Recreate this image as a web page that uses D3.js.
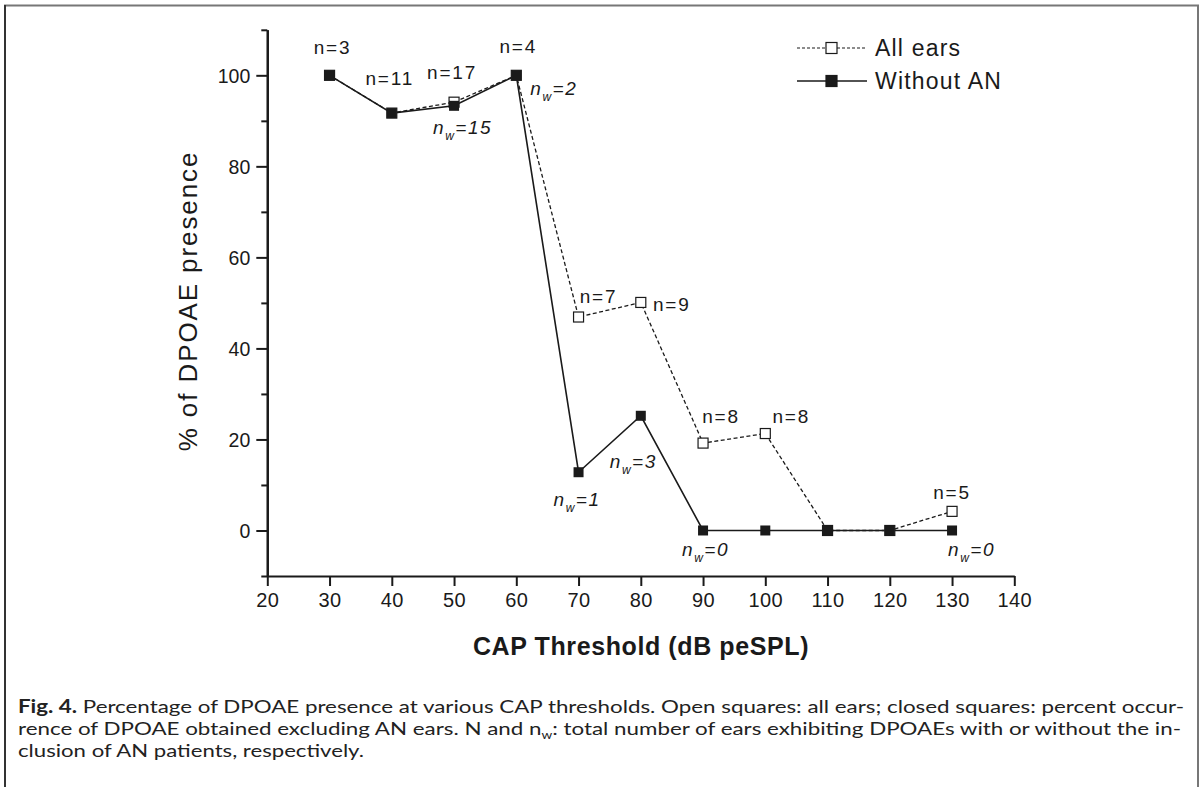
<!DOCTYPE html>
<html>
<head>
<meta charset="utf-8">
<script src="https://cdn.jsdelivr.net/npm/d3@7"></script>
<style>
  body { margin: 0; background: #fff; }
  svg { display: block; }
  .tick text { font-family: "Liberation Sans", Arial, sans-serif; fill: #1a1a1a; }
</style>
</head>
<body>
<script>
// CAP threshold categories (dB peSPL)
var thresholds = [30, 40, 50, 60, 70, 80, 90, 100, 110, 120, 130];
// % of DPOAE presence
var allEars = [100, 91.7, 94.1, 100, 46.9, 50.1, 19.2, 21.3, 0, 0, 4.2];
var withoutAN = [100, 91.7, 93.3, 100, 12.8, 25.2, 0, 0, 0, 0, 0];
// point annotations
var nThresh = [30, 40, 50, 60, 70, 80, 90, 100, 130];
var nText = ["n=3", "n=11", "n=17", "n=4", "n=7", "n=9", "n=8", "n=8", "n=5"];
var nwThresh = [50, 60, 70, 80, 90, 130];
var nwText = ["=15", "=2", "=1", "=3", "=0", "=0"];
var xTicks = [20, 30, 40, 50, 60, 70, 80, 90, 100, 110, 120, 130, 140];
var yTicks = [0, 20, 40, 60, 80, 100];
var yMinor = [-10, 10, 30, 50, 70, 90, 110];
var seriesNames = ["All ears", "Without AN"];

// label offsets from their point (layout only)
var nOffset = [[3, -21], [-2, -28], [-2, -23], [2, -22], [20, -14], [31, 9], [18, -20], [26, -11], [0, -12]];
var nwOffset = [[-21, 28], [14, 20], [-25, 34], [-31, 52], [-21, 26], [-4, 26]];

var w = 1204, h = 787;
var svg = d3.select("body").append("svg")
    .attr("width", w)
    .attr("height", h);

svg.append("rect").attr("width", w).attr("height", h).attr("fill", "#fff");

// figure frame
svg.append("path")
    .attr("d", "M5,787 V5.5 H1198 V787")
    .attr("fill", "none")
    .attr("stroke", "#777")
    .attr("stroke-width", 2);
svg.append("line")
    .attr("x1", 5).attr("x2", 5).attr("y1", 5).attr("y2", 787)
    .attr("stroke", "#333").attr("stroke-width", 2);

var x = d3.scaleLinear().domain([20, 140]).range([267.3, 1014.3]);
var y = d3.scaleLinear().domain([-10, 110]).range([576, 29.8]);

// y axis, major and minor ticks
var yAxis = svg.append("g")
    .attr("transform", "translate(267.3,0)")
    .call(d3.axisLeft(y).tickValues(yTicks).tickSize(11).tickSizeOuter(0).tickPadding(6));
svg.append("g")
    .attr("transform", "translate(267.3,0)")
    .call(d3.axisLeft(y).tickValues(yMinor).tickSize(6).tickSizeOuter(0).tickFormat(""));

// x axis
var xAxis = svg.append("g")
    .attr("transform", "translate(0,576)")
    .call(d3.axisBottom(x).tickValues(xTicks).tickSize(10).tickSizeOuter(0).tickPadding(7));

svg.selectAll(".domain").attr("stroke", "#1a1a1a").attr("stroke-width", 2.2);
svg.selectAll(".tick line").attr("stroke", "#1a1a1a").attr("stroke-width", 2);
yAxis.selectAll(".tick text").style("font-size", "19.5px").attr("dy", "0.35em");
xAxis.selectAll(".tick text").style("font-size", "20px").style("letter-spacing", "0.4px");

// axis titles
svg.append("text")
    .attr("x", 641).attr("y", 655)
    .attr("text-anchor", "middle")
    .style("font-family", "Liberation Sans, Arial, sans-serif")
    .style("font-weight", "bold")
    .style("font-size", "25px")
    .style("letter-spacing", "0.6px")
    .attr("fill", "#1a1a1a")
    .text("CAP Threshold (dB peSPL)");

svg.append("text")
    .attr("transform", "translate(197,301) rotate(-90)")
    .attr("text-anchor", "middle")
    .style("font-family", "Liberation Sans, Arial, sans-serif")
    .style("font-size", "26px")
    .style("letter-spacing", "1.9px")
    .attr("fill", "#1a1a1a")
    .text("% of DPOAE presence");

// series
var allPts = thresholds.map(function(t, i){ return [t, allEars[i]]; });
var woPts = thresholds.map(function(t, i){ return [t, withoutAN[i]]; });
var line = d3.line()
    .x(function(d){ return x(d[0]); })
    .y(function(d){ return y(d[1]); });

svg.append("path")
    .datum(allPts)
    .attr("d", line)
    .attr("fill", "none")
    .attr("stroke", "#1a1a1a")
    .attr("stroke-width", 1.3)
    .attr("stroke-dasharray", "4,2.5");

svg.append("path")
    .datum(woPts)
    .attr("d", line)
    .attr("fill", "none")
    .attr("stroke", "#1a1a1a")
    .attr("stroke-width", 1.6);

var sq = 10;
svg.selectAll(".openSq")
    .data(allPts)
    .enter()
    .append("rect")
    .attr("class", "openSq")
    .attr("x", function(d){ return x(d[0]) - sq / 2; })
    .attr("y", function(d){ return y(d[1]) - sq / 2; })
    .attr("width", sq).attr("height", sq)
    .attr("fill", "#fff")
    .attr("stroke", "#1a1a1a")
    .attr("stroke-width", 1.2);

svg.selectAll(".fillSq")
    .data(woPts)
    .enter()
    .append("rect")
    .attr("class", "fillSq")
    .attr("x", function(d){ return x(d[0]) - sq / 2; })
    .attr("y", function(d){ return y(d[1]) - sq / 2; })
    .attr("width", sq).attr("height", sq)
    .attr("fill", "#1a1a1a");

// n labels (all ears)
function valueAt(series, t){ return series[thresholds.indexOf(t)]; }

svg.selectAll(".nLab")
    .data(nThresh)
    .enter()
    .append("text")
    .attr("class", "nLab")
    .attr("x", function(d, i){ return x(d) + nOffset[i][0]; })
    .attr("y", function(d, i){ return y(valueAt(allEars, d)) + nOffset[i][1]; })
    .attr("text-anchor", "middle")
    .style("font-family", "Liberation Sans, Arial, sans-serif")
    .style("font-size", "19px")
    .style("letter-spacing", "1.8px")
    .attr("fill", "#1a1a1a")
    .text(function(d, i){ return nText[i]; });

// n_w labels (without AN)
var nw = svg.selectAll(".nwLab")
    .data(nwThresh)
    .enter()
    .append("text")
    .attr("class", "nwLab")
    .attr("x", function(d, i){ return x(d) + nwOffset[i][0]; })
    .attr("y", function(d, i){ return y(valueAt(withoutAN, d)) + nwOffset[i][1]; })
    .style("font-family", "Liberation Sans, Arial, sans-serif")
    .style("font-style", "italic")
    .style("font-size", "19px")
    .style("letter-spacing", "1.5px")
    .attr("fill", "#1a1a1a");
nw.append("tspan").text("n");
nw.append("tspan").attr("dy", 6).style("font-size", "12px").text("w");
nw.append("tspan").attr("dy", -6).text(function(d, i){ return nwText[i]; });

// legend
var legend = svg.append("g").attr("class", "legend");
var legRows = legend.selectAll("g")
    .data(seriesNames)
    .enter()
    .append("g")
    .attr("transform", function(d, i){ return "translate(797," + (48 + i * 33) + ")"; });
legRows.append("line")
    .attr("x1", 0).attr("x2", 70)
    .attr("stroke", "#1a1a1a")
    .attr("stroke-width", function(d, i){ return i ? 1.6 : 1.2; })
    .attr("stroke-dasharray", function(d, i){ return i ? null : "3,2"; });
legRows.append("rect")
    .attr("x", 29).attr("y", -5.5)
    .attr("width", 11).attr("height", 11)
    .attr("fill", function(d, i){ return i ? "#1a1a1a" : "#fff"; })
    .attr("stroke", "#1a1a1a")
    .attr("stroke-width", 1.2);
legRows.append("text")
    .attr("x", 78).attr("y", 8)
    .style("font-family", "Liberation Sans, Arial, sans-serif")
    .style("font-size", "23px")
    .style("letter-spacing", "1.2px")
    .attr("fill", "#1a1a1a")
    .text(function(d){ return d; });

// caption
var cap = svg.append("g")
    .style("font-family", "Lato, sans-serif")
    .style("font-size", "18px")
    .attr("fill", "#222");
var l1 = cap.append("text").attr("x", 18).attr("y", 713)
    .attr("textLength", 1166).attr("lengthAdjust", "spacingAndGlyphs");
l1.append("tspan").style("font-weight", "bold").text("Fig. 4.");
l1.append("tspan").text(" Percentage of DPOAE presence at various CAP thresholds. Open squares: all ears; closed squares: percent occur-");
var l2 = cap.append("text").attr("x", 18).attr("y", 735)
    .attr("textLength", 1163).attr("lengthAdjust", "spacingAndGlyphs");
l2.append("tspan").text("rence of DPOAE obtained excluding AN ears. N and n");
l2.append("tspan").attr("dy", 4).style("font-size", "11px").text("w");
l2.append("tspan").attr("dy", -4).text(": total number of ears exhibiting DPOAEs with or without the in-");
cap.append("text").attr("x", 18).attr("y", 757)
    .attr("textLength", 346).attr("lengthAdjust", "spacingAndGlyphs")
    .text("clusion of AN patients, respectively.");
</script>
</body>
</html>
